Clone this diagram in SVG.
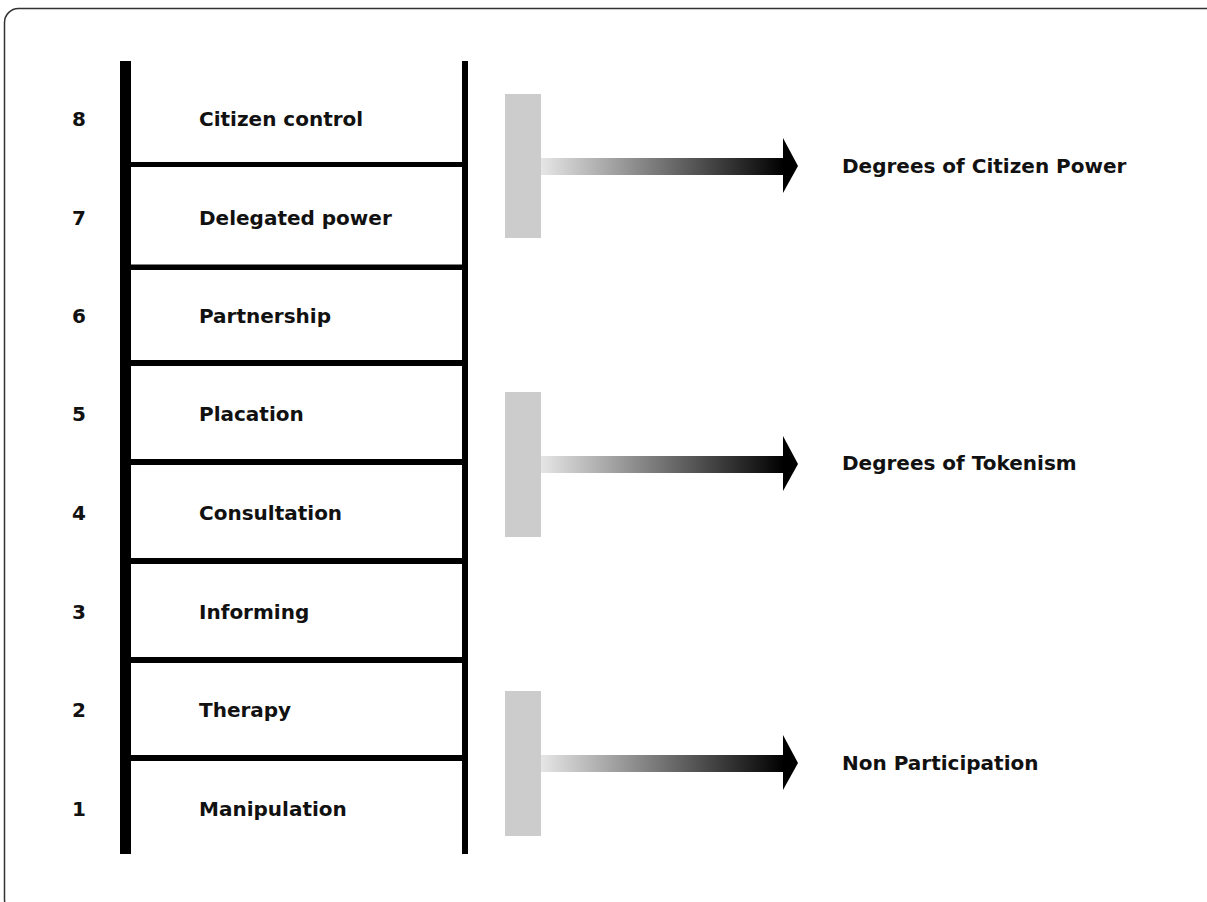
<svg xmlns="http://www.w3.org/2000/svg" width="1207" height="902" viewBox="0 0 1207 902">
  <defs>
    <linearGradient id="shaft" x1="0" y1="0" x2="1" y2="0">
      <stop offset="0" stop-color="#e6e6e6"/>
      <stop offset="1" stop-color="#000000"/>
    </linearGradient>
  </defs>
  <style>
    .frame { fill: #ffffff; stroke: #333333; stroke-width: 1.5; }
    .rail { fill: #000000; }
    .rung { fill: #000000; }
    .num { font-family: "DejaVu Sans", "Liberation Sans", sans-serif; font-weight: bold; font-size: 20px; fill: #111111; text-anchor: middle; }
    .lbl { font-family: "DejaVu Sans", "Liberation Sans", sans-serif; font-weight: bold; font-size: 20px; fill: #111111; }
    .bar { fill: #cccccc; }
    .shaft { fill: url(#shaft); }
    .head { fill: #000000; }
  </style>
  <rect class="frame" x="4.5" y="8.5" width="1220" height="905" rx="14" ry="14"/>

  <g id="ladder">
    <rect class="rail" x="120" y="61" width="11" height="793"/>
    <rect class="rail" x="462" y="61" width="6" height="793"/>
    <rect class="rung" x="131" y="162" width="331" height="5"/>
    <rect class="rung" x="131" y="264.5" width="331" height="5.5"/>
    <rect class="rung" x="131" y="360" width="331" height="6"/>
    <rect class="rung" x="131" y="459" width="331" height="6"/>
    <rect class="rung" x="131" y="558" width="331" height="6"/>
    <rect class="rung" x="131" y="657" width="331" height="6"/>
    <rect class="rung" x="131" y="755" width="331" height="6"/>
  </g>

  <g id="rung8"><text class="num" x="79" y="126">8</text><text class="lbl" x="199" y="126">Citizen control</text></g>
  <g id="rung7"><text class="num" x="79" y="224.5">7</text><text class="lbl" x="199" y="224.5">Delegated power</text></g>
  <g id="rung6"><text class="num" x="79" y="323">6</text><text class="lbl" x="199" y="323">Partnership</text></g>
  <g id="rung5"><text class="num" x="79" y="421">5</text><text class="lbl" x="199" y="421">Placation</text></g>
  <g id="rung4"><text class="num" x="79" y="520">4</text><text class="lbl" x="199" y="520">Consultation</text></g>
  <g id="rung3"><text class="num" x="79" y="618.5">3</text><text class="lbl" x="199" y="618.5">Informing</text></g>
  <g id="rung2"><text class="num" x="79" y="717">2</text><text class="lbl" x="199" y="717">Therapy</text></g>
  <g id="rung1"><text class="num" x="79" y="815.5">1</text><text class="lbl" x="199" y="815.5">Manipulation</text></g>

  <g id="bracket-power"><rect class="bar" x="505" y="94" width="36" height="144"/></g>
  <g id="bracket-tokenism"><rect class="bar" x="505" y="392" width="36" height="145"/></g>
  <g id="bracket-non"><rect class="bar" x="505" y="691" width="36" height="145"/></g>

  <g id="label-power"><text class="lbl" x="842" y="173">Degrees of Citizen Power</text></g>
  <g id="label-tokenism"><text class="lbl" x="842" y="470">Degrees of Tokenism</text></g>
  <g id="label-non"><text class="lbl" x="842" y="770">Non Participation</text></g>

  <g id="connectors">
    <rect class="shaft" x="541" y="158" width="243" height="17"/>
    <polygon class="head" points="783,138 798,166 783,193"/>
    <rect class="shaft" x="541" y="456" width="243" height="17"/>
    <polygon class="head" points="783,436 798,464 783,491"/>
    <rect class="shaft" x="541" y="755" width="243" height="17"/>
    <polygon class="head" points="783,735 798,763 783,790"/>
  </g>
</svg>
